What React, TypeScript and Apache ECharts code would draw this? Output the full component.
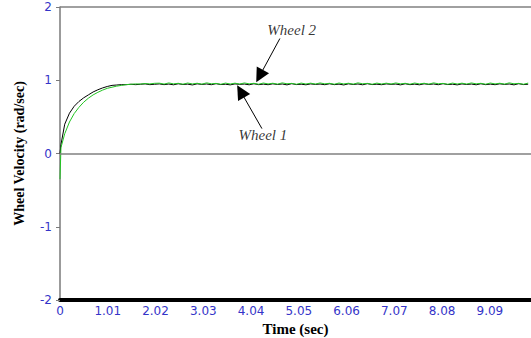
import React, { useEffect, useRef } from "react";
import * as echarts from "echarts";

const timeSec = [
  0, 0.02, 0.1, 0.2, 0.3, 0.4, 0.5, 0.6, 0.7, 0.8, 0.9, 1.0, 1.1, 1.2, 1.3, 1.4, 1.5, 1.6, 1.7, 1.8, 1.9, 2.0,
  2.1, 2.2, 2.3, 2.4, 2.5, 2.6, 2.7, 2.8, 2.9, 3.0,
  3.1, 3.2, 3.3, 3.4, 3.5, 3.6, 3.7, 3.8, 3.9, 4.0,
  4.1, 4.2, 4.3, 4.4, 4.5, 4.6, 4.7, 4.8, 4.9, 5.0,
  5.1, 5.2, 5.3, 5.4, 5.5, 5.6, 5.7, 5.8, 5.9, 6.0,
  6.1, 6.2, 6.3, 6.4, 6.5, 6.6, 6.7, 6.8, 6.9, 7.0,
  7.1, 7.2, 7.3, 7.4, 7.5, 7.6, 7.7, 7.8, 7.9, 8.0,
  8.1, 8.2, 8.3, 8.4, 8.5, 8.6, 8.7, 8.8, 8.9, 9.0,
  9.1, 9.2, 9.3, 9.4, 9.5, 9.6, 9.7, 9.8, 9.9,
];

const wheel1 = [
  0, 0.12, 0.4, 0.55, 0.645, 0.71, 0.76, 0.8, 0.84, 0.87, 0.895, 0.915, 0.93, 0.935, 0.94, 0.94, 0.945, 0.94, 0.945, 0.95, 0.94, 0.945,
  0.950, 0.940, 0.948, 0.938, 0.952, 0.942, 0.947, 0.936, 0.951, 0.943,
  0.949, 0.939, 0.953, 0.941, 0.946, 0.937, 0.950, 0.944, 0.948, 0.938,
  0.952, 0.940, 0.947, 0.939, 0.951, 0.942, 0.949, 0.937, 0.953, 0.941,
  0.946, 0.938, 0.950, 0.943, 0.948, 0.939, 0.952, 0.940, 0.947, 0.936,
  0.951, 0.942, 0.949, 0.938, 0.953, 0.941, 0.946, 0.939, 0.950, 0.944,
  0.948, 0.937, 0.952, 0.940, 0.947, 0.938, 0.951, 0.943, 0.949, 0.939,
  0.953, 0.941, 0.946, 0.937, 0.950, 0.942, 0.948, 0.938, 0.952, 0.940,
  0.947, 0.939, 0.951, 0.943, 0.949, 0.937, 0.953, 0.941, 0.946,
];

const wheel2 = [
  -0.35, 0.08, 0.27, 0.43, 0.545, 0.63, 0.7, 0.755, 0.8, 0.835, 0.865, 0.89, 0.905, 0.92, 0.93, 0.94, 0.945, 0.95, 0.948, 0.955, 0.95, 0.958,
  0.960, 0.948, 0.963, 0.951, 0.958, 0.946, 0.962, 0.950, 0.959, 0.947,
  0.964, 0.952, 0.957, 0.945, 0.961, 0.949, 0.960, 0.948, 0.963, 0.951,
  0.958, 0.946, 0.962, 0.950, 0.959, 0.947, 0.964, 0.952, 0.957, 0.945,
  0.961, 0.949, 0.960, 0.948, 0.963, 0.951, 0.958, 0.946, 0.962, 0.950,
  0.959, 0.947, 0.964, 0.952, 0.957, 0.945, 0.961, 0.949, 0.960, 0.948,
  0.963, 0.951, 0.958, 0.946, 0.962, 0.950, 0.959, 0.947, 0.964, 0.952,
  0.957, 0.945, 0.961, 0.949, 0.960, 0.948, 0.963, 0.951, 0.958, 0.946,
  0.962, 0.950, 0.959, 0.947, 0.964, 0.952, 0.957, 0.945, 0.961,
];

const xTickStep = 1.01;
const xMax = 9.96;
const yTicks = [-2, -1, 0, 1, 2];

const annotationNames = ["Wheel 2", "Wheel 1"];
const annotationTextPos = [[4.9, 1.68], [4.29, 0.25]];
const annotationArrowFrom = [[4.65, 1.57], [4.27, 0.34]];
const annotationArrowTo = [[4.22, 1.057], [3.82, 0.848]];

export default function App() {
  const ref = useRef<HTMLDivElement>(null);
  useEffect(() => {
    if (!ref.current) return;
    const chart = echarts.init(ref.current, undefined, { renderer: "svg" });
    const blue = "#3434c8";
    chart.setOption({
      animation: false,
      backgroundColor: "#ffffff",
      grid: { left: 60, right: 0, top: 7, bottom: 38, containLabel: false, outerBoundsMode: "none" },
      xAxis: {
        type: "value",
        min: 0,
        max: xMax,
        interval: xTickStep,
        name: "Time (sec)",
        nameLocation: "middle",
        nameGap: 20,
        nameTextStyle: { fontFamily: "Liberation Serif", fontWeight: "bold", fontSize: 15, color: "#000" },
        axisLine: { onZero: false, lineStyle: { color: "#000", width: 4 } },
        axisTick: { show: false },
        splitLine: { show: false },
        axisLabel: {
          color: blue,
          fontFamily: "DejaVu Sans",
          fontSize: 12,
          margin: 5,
          showMaxLabel: false,
          formatter: (v: number) => (v === 0 ? "0" : v.toFixed(2)),
        },
      },
      yAxis: {
        type: "value",
        min: yTicks[0],
        max: yTicks[yTicks.length - 1],
        interval: 1,
        name: "Wheel Velocity (rad/sec)",
        nameLocation: "middle",
        nameGap: 34,
        nameTextStyle: { fontFamily: "Liberation Serif", fontWeight: "bold", fontSize: 14, color: "#000" },
        axisLine: { onZero: false, lineStyle: { color: "#7a7a7a", width: 1.5 } },
        axisTick: { show: true, length: 4, lineStyle: { color: "#7a7a7a" } },
        splitLine: { show: false },
        axisLabel: { color: blue, fontFamily: "DejaVu Sans", fontSize: 12, margin: 8 },
      },
      series: [
        {
          name: "Wheel 1",
          type: "line",
          data: timeSec.map((t, i) => [t, wheel1[i]]),
          showSymbol: false,
          symbol: "none",
          lineStyle: { color: "#000000", width: 1 },
          z: 3,
          markLine: {
            silent: true,
            symbol: ["none", "none"],
            label: { show: false },
            lineStyle: { color: "#808080", width: 1.5, type: "solid" },
            data: [{ yAxis: 0 }, { yAxis: 2 }],
          },
        },
        {
          name: "Wheel 2",
          type: "line",
          data: timeSec.map((t, i) => [t, wheel2[i]]),
          showSymbol: false,
          symbol: "none",
          lineStyle: { color: "#22c422", width: 1 },
          z: 4,
        },
        {
          name: "annotations",
          type: "scatter",
          symbolSize: 0,
          z: 5,
          data: annotationNames.map((n, i) => ({ name: n, value: annotationTextPos[i] })),
          label: {
            show: true,
            position: "inside",
            formatter: "{b}",
            fontFamily: "Liberation Serif",
            fontStyle: "italic",
            fontSize: 15,
            color: "#000",
          },
          markLine: {
            silent: true,
            symbol: ["none", "triangle"],
            symbolSize: 14,
            label: { show: false },
            itemStyle: { color: "#000" },
            lineStyle: { color: "#000", width: 1, type: "solid" },
            data: annotationNames.map((_, i) => [
              { coord: annotationArrowFrom[i] },
              { coord: annotationArrowTo[i] },
            ]),
          },
        },
      ],
    });
    return () => chart.dispose();
  }, []);
  return (
    <div
      ref={ref}
      style={{ position: "absolute", left: 0, top: 0, width: 531, height: 338 }}
    />
  );
}
